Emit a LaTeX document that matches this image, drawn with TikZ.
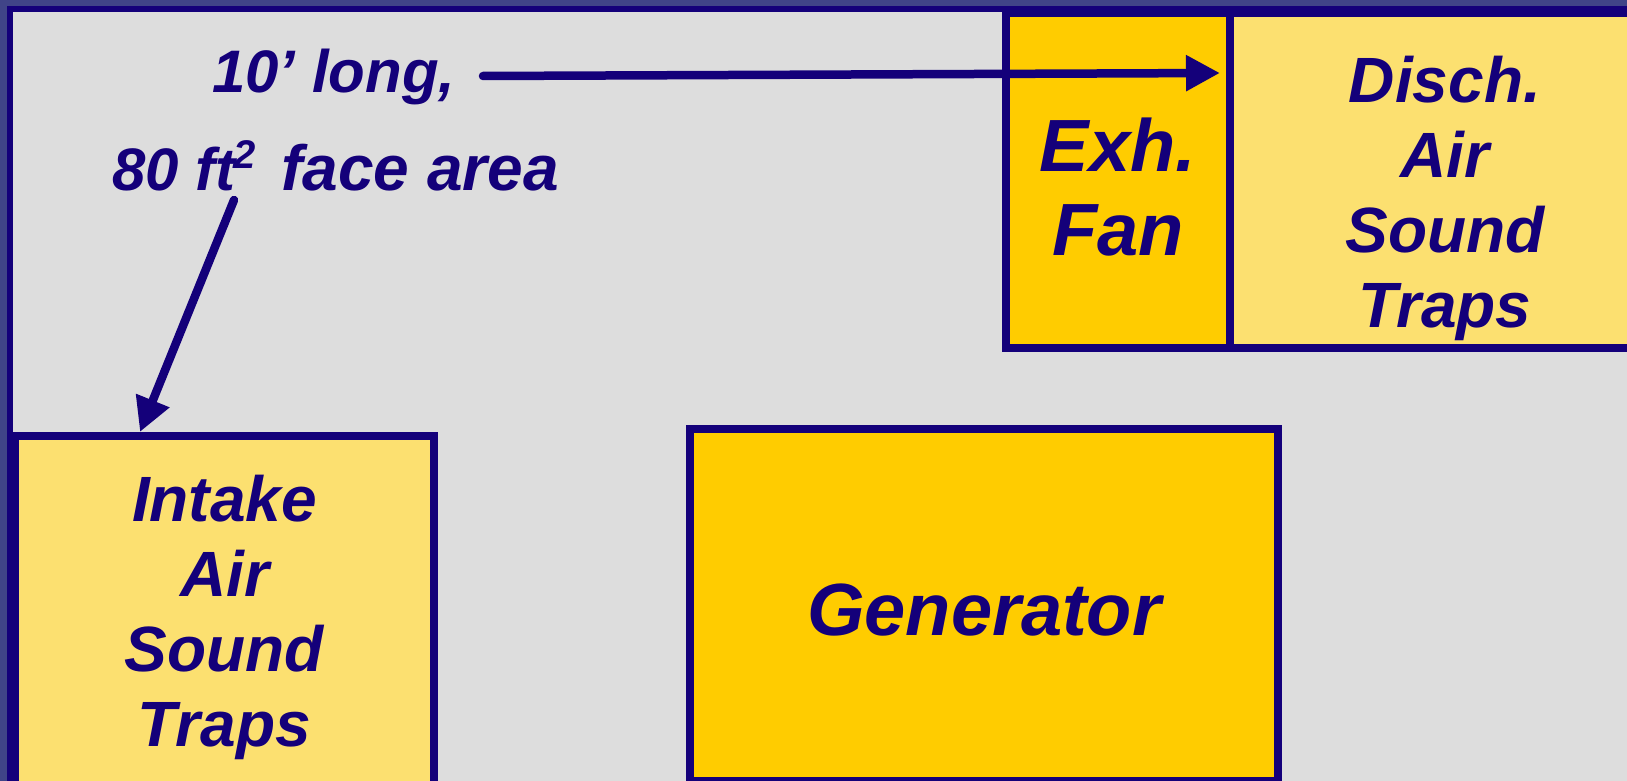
\documentclass[tikz,border=0pt]{standalone}
\usepackage{fontspec}
\setmainfont{Liberation Sans}
\usetikzlibrary{arrows.meta}

\definecolor{navy}{RGB}{20,0,122}
\definecolor{slate}{RGB}{64,68,136}
\definecolor{floor}{RGB}{221,221,221}
\definecolor{gold}{RGB}{255,204,0}
\definecolor{pale}{RGB}{252,224,112}

\begin{document}
\begin{tikzpicture}[
        x=1pt, y=-1pt,
        box/.style={rectangle, draw=navy, line width=8pt, fill=pale, inner sep=0pt},
        hotbox/.style={box, fill=gold},
        boxtext/.style={text=navy, align=center, inner sep=0pt, font=\fontsize{64}{75}\selectfont\bfseries\itshape},
        hottext/.style={boxtext, font=\fontsize{74}{84}\selectfont\bfseries\itshape},
        note/.style={text=navy, inner sep=0pt, font=\fontsize{60}{72}\selectfont\bfseries\itshape},
        arrow/.style={-{Triangle[length=34pt, width=34pt]}, draw=navy, line width=8.5pt, line cap=round}
    ]

        \useasboundingbox (0,0) rectangle (1627,781);
        \clip (0,0) rectangle (1627,781);

        % 1. Room outline
        \fill [slate] (0,0) rectangle (1627,781);
        \draw [navy, line width=6pt, fill=floor] (10,9) rectangle (1700,860);

        % 2. Discharge side
        \node (fan) [hotbox, minimum width=224pt, minimum height=335pt] at (1118,180.5) {};
        \node (disch) [box, minimum width=430pt, minimum height=335pt] at (1445,180.5) {};
        \node (fantext) [hottext] at ([yshift=-7pt]fan.center) {Exh.\\Fan};
        \node (dischtext) [boxtext] at ([yshift=-18pt]disch.center) {Disch.\\Air\\Sound\\Traps};

        % 3. Intake side and generator
        \node (intake) [box, minimum width=419pt, minimum height=356pt] at (224.5,614) {};
        \node (gen) [hotbox, minimum width=588pt, minimum height=352pt] at (984,605) {};
        \node (intaketext) [boxtext] at ([yshift=-3pt]intake.center) {Intake\\Air\\Sound\\Traps};
        \node (gentext) [hottext] at ([yshift=-5pt]gen.center) {Generator};

        % 4. Notes
        \node (length) [note, anchor=base west] at (212,93) {10’ long,};
        \node (face) [note, anchor=base west] at (112,190) {80 ft\hspace{-2pt}\raisebox{22pt}{\fontsize{40}{40}\selectfont 2}\hspace{9pt} {\fontsize{64}{72}\selectfont face area}};

        \coordinate (lenstart) at (483,76);
        \coordinate (lenend) at (1220,73);
        \coordinate (facestart) at (234,200);
        \coordinate (faceend) at (140,432);

        % Connections
        \draw [arrow] (lenstart) -- (lenend);
        \draw [arrow] (facestart) -- (faceend);

    \end{tikzpicture}
\end{document}
